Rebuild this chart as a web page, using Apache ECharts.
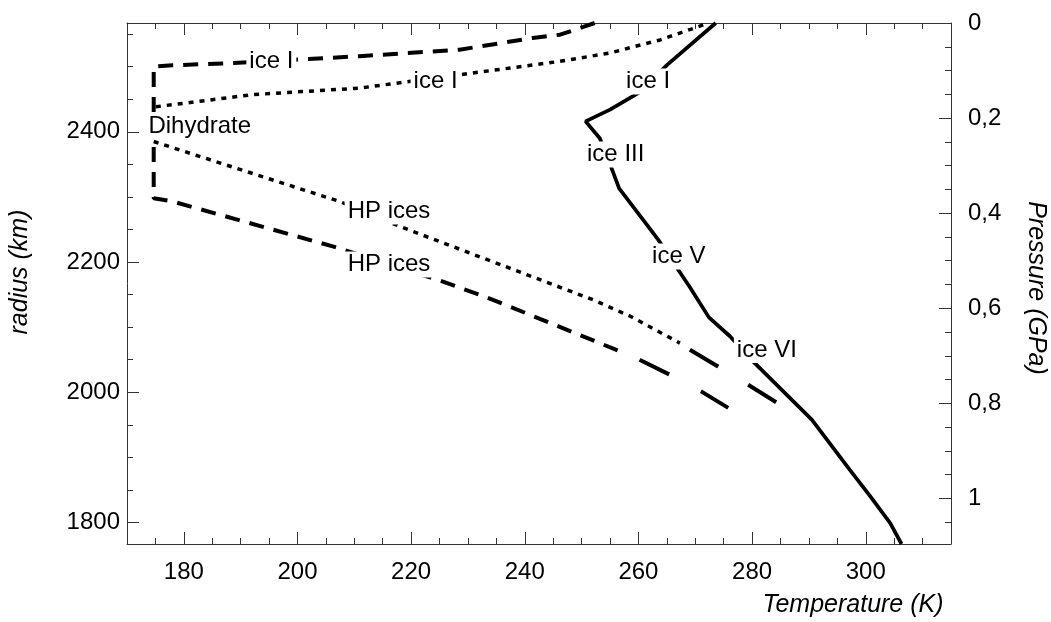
<!DOCTYPE html>
<html>
<head>
<meta charset="utf-8">
<title>Temperature profiles</title>
<script src="https://cdn.jsdelivr.net/npm/echarts@6/dist/echarts.min.js"></script>
<style>
  html, body { margin: 0; padding: 0; background: #fff; }
  #chart { width: 1051px; height: 622px; }
</style>
</head>
<body>
<div id="chart"></div>
<script>
  // [temperature K, radius km]
  var solidCurve = [[273.6, 2567], [265.1, 2503], [260.1, 2460], [255.0, 2434], [250.7, 2416],
    [253.2, 2390], [255.1, 2348], [256.6, 2313], [260.8, 2265], [263.5, 2234], [266.6, 2193],
    [269.0, 2162], [272.4, 2115], [276.1, 2086], [280.2, 2047], [290.5, 1958], [297.2, 1881],
    [300.8, 1840], [304.3, 1799], [306.3, 1767]];
  var dashedCurve = [[252.3, 2567], [250.3, 2561], [246.2, 2549], [241.4, 2544], [228.5, 2526],
    [210.9, 2516], [188.6, 2505.5], [178.0, 2502], [174.7, 2500], [174.7, 2298], [178.0, 2293],
    [206.2, 2224], [225.6, 2170], [234.4, 2142], [256.7, 2063]];
  var dashedTail = [[260.2, 2050], [265.5, 2027], [271.1, 2001], [275.8, 1976]];
  var dottedTop = [[271.4, 2564], [263.8, 2541], [255.0, 2521], [246.1, 2508], [228.5, 2487.5],
    [210.9, 2467], [192.1, 2457], [174.7, 2438]];
  var dottedBottom = [[174.7, 2385], [191.0, 2339], [207.4, 2293], [218.0, 2254.6], [252.0, 2142],
    [258.5, 2117], [267.3, 2075.5]];
  var dottedTail = [[269.05, 2065.2], [274.0, 2039.6], [279.3, 2011.5], [284.3, 1984.3]];

  var phaseLabels = [
    ['ice I', 195.4, 2508], ['ice I', 224.3, 2477], ['ice I', 261.7, 2477],
    ['Dihydrate', 182.8, 2409], ['ice III', 256.0, 2365],
    ['HP ices', 216.1, 2277.6], ['HP ices', 216.1, 2196],
    ['ice V', 267.1, 2208.5], ['ice VI', 282.6, 2065]
  ];

  var tMajor = [180, 200, 220, 240, 260, 280, 300];
  var tMinor = [175, 180, 185, 190, 195, 200, 205, 210, 215, 220, 225, 230, 235, 240, 245, 250,
    255, 260, 265, 270, 275, 280, 285, 290, 295, 300, 305, 310];
  var rMajor = [1800, 2000, 2200, 2400];
  var rMinor = [1800, 1850, 1900, 1950, 2000, 2050, 2100, 2150, 2200, 2250, 2300, 2350, 2400,
    2450, 2500, 2550];
  var pMajor = [0, 0.2, 0.4, 0.6, 0.8, 1];
  var pMinor = [0.05, 0.1, 0.15, 0.2, 0.25, 0.3, 0.35, 0.4, 0.45, 0.5, 0.55, 0.6, 0.65, 0.7,
    0.75, 0.8, 0.85, 0.9, 0.95, 1, 1.05];

  var FONT = "'Liberation Sans', Arial, Helvetica, sans-serif";
  var axisColor = '#333';

  function mkAxis(pos, min, max, ticks, len, labels, extra) {
    var a = {
      type: 'value', position: pos, min: min, max: max, inverse: !!extra.inverse,
      axisLine: { show: !!extra.line, onZero: false, lineStyle: { color: axisColor, width: 1 } },
      axisTick: { show: true, inside: true, length: len, customValues: ticks,
        lineStyle: { color: axisColor, width: 1 } },
      axisLabel: { show: false },
      splitLine: { show: false }
    };
    if (labels) {
      a.axisLabel = {
        show: true, customValues: labels, color: '#000', fontSize: 24, fontFamily: FONT,
        margin: extra.margin, padding: extra.padding || 0,
        formatter: extra.formatter
      };
    }
    return a;
  }

  var plainFmt = function (v) { return String(v); };
  var commaFmt = function (v) { return String(+v.toFixed(2)).replace('.', ','); };

  var lineBase = { type: 'line', symbol: 'none', showSymbol: false, silent: true, z: 2 };
  function lineSeries(data, type, width) {
    return Object.assign({}, lineBase, {
      data: data,
      lineStyle: { color: '#000', width: width, type: type, cap: 'butt' }
    });
  }

  var option = {
    animation: false,
    backgroundColor: '#fff',
    grid: { left: 127, right: 100, top: 23, bottom: 78, containLabel: false },
    xAxis: [
      mkAxis('bottom', 170, 315, tMinor, 6, tMajor, { line: true, margin: 16, formatter: plainFmt }),
      mkAxis('bottom', 170, 315, tMajor, 12, null, {}),
      mkAxis('top', 170, 315, tMinor, 6, null, { line: true }),
      mkAxis('top', 170, 315, tMajor, 12, null, {})
    ],
    yAxis: [
      mkAxis('left', 1767, 2567, rMinor, 6, rMajor, { line: true, margin: 7, formatter: plainFmt }),
      mkAxis('left', 1767, 2567, rMajor, 12, null, {}),
      mkAxis('right', 0, 1.096, pMinor, 6, null, { line: true, inverse: true }),
      mkAxis('right', 0, 1.096, pMajor, 12, pMajor,
        { margin: 17, padding: [0, 0, 10, 0], formatter: commaFmt, inverse: true })
    ],
    series: [
      lineSeries(solidCurve, 'solid', 3.7),
      lineSeries(dashedCurve, [15, 10], 4),
      lineSeries(dashedTail, [33, 36], 4),
      lineSeries(dottedTop, [5, 6], 3.5),
      lineSeries(dottedBottom, [5, 6], 3.5),
      lineSeries(dottedTail, [33, 35], 4),
      {
        type: 'scatter', silent: true, z: 5,
        symbolSize: 0,
        itemStyle: { opacity: 1 },
        data: phaseLabels.map(function (d) { return { name: d[0], value: [d[1], d[2]] }; }),
        label: {
          show: true, position: 'inside', formatter: function (p) { return p.name; },
          color: '#000', opacity: 1, fontSize: 24, fontFamily: FONT,
          backgroundColor: '#fff', padding: [1, 3]
        }
      }
    ],
    graphic: [
      { type: 'text', x: 20, y: 272, rotation: Math.PI / 2,
        style: { text: 'radius (km)', font: 'italic 25px ' + FONT, fill: '#000',
          align: 'center', verticalAlign: 'middle' } },
      { type: 'text', x: 1036, y: 288, rotation: -Math.PI / 2,
        style: { text: 'Pressure (GPa)', font: 'italic 25px ' + FONT, fill: '#000',
          align: 'center', verticalAlign: 'middle' } },
      { type: 'text', x: 853, y: 605,
        style: { text: 'Temperature (K)', font: 'italic 25px ' + FONT, fill: '#000',
          align: 'center', verticalAlign: 'middle' } }
    ]
  };

  var chart = echarts.init(document.getElementById('chart'));
  chart.setOption(option);
</script>
</body>
</html>
